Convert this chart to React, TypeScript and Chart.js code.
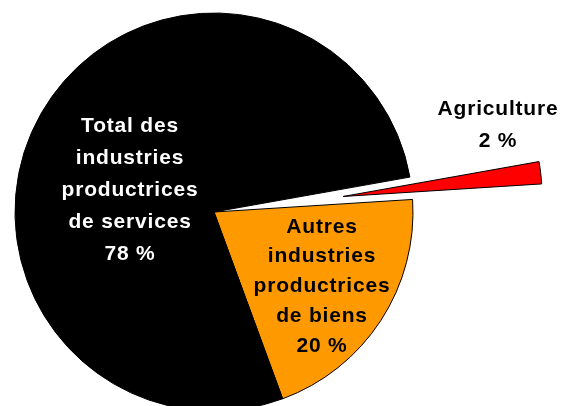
import React, { useEffect, useRef } from "react";
import { Chart, registerables } from "chart.js";

Chart.register(...registerables);

// Sector names (multi-line labels as printed on the chart)
const categories: string[][] = [
  ["Agriculture"],
  ["Autres", "industries", "productrices", "de biens"],
  ["Total des", "industries", "productrices", "de services"],
];
// Shares in percent (printed labels are rounded)
const shares: number[] = [1.8, 20.4, 77.8];
const sliceColors: string[] = ["#FF0000", "#FF9900", "#000000"];
const labelColors: string[] = ["#000000", "#000000", "#FFFFFF"];

export default function App() {
  const canvasRef = useRef<HTMLCanvasElement | null>(null);

  useEffect(() => {
    const canvas = canvasRef.current;
    if (!canvas) return;

    // how far each slice is pulled out from the centre (px)
    const explode: number[] = [130, 0, 0];
    // label layout relative to the pie centre: [dx, dy of middle line baseline, line height]
    const labelLayout: number[][] = [
      [284, -81, 32],
      [108, 80, 29.75],
      [-84, -16, 32],
    ];

    const explodePlugin = {
      id: "explodedSlices",
      beforeDatasetDraw(chart: any, args: any) {
        const ctx = chart.ctx;
        const meta = args.meta;
        meta.data.forEach((arc: any, i: number) => {
          const mid = (arc.startAngle + arc.endAngle) / 2;
          const d = explode[i] || 0;
          ctx.save();
          ctx.translate(Math.cos(mid) * d, Math.sin(mid) * d);
          arc.draw(ctx);
          ctx.restore();
        });
        return false;
      },
    };

    const labelPlugin = {
      id: "sliceLabels",
      afterDatasetsDraw(chart: any) {
        const ctx = chart.ctx;
        const meta = chart.getDatasetMeta(0);
        ctx.save();
        ctx.font = "bold 21px 'Liberation Sans', Arial, sans-serif";
        ctx.textAlign = "center";
        ctx.textBaseline = "alphabetic";
        try {
          (ctx as any).letterSpacing = "0.8px";
        } catch (e) {}
        meta.data.forEach((arc: any, i: number) => {
          const lines = [...categories[i], `${Math.round(shares[i])} %`];
          const [dx, dy, lh] = labelLayout[i];
          const cx = arc.x + dx;
          const mid = (lines.length - 1) / 2;
          ctx.fillStyle = labelColors[i];
          lines.forEach((ln, j) => {
            ctx.fillText(ln, cx, arc.y + dy + (j - mid) * lh);
          });
        });
        ctx.restore();
      },
    };

    const chart = new Chart(canvas, {
      type: "pie",
      data: {
        labels: categories.map((c) => c.join(" ")),
        datasets: [
          {
            data: shares,
            backgroundColor: sliceColors,
            borderColor: "#000000",
            borderWidth: 1,
            offset: 0,
            hoverOffset: 0,
          } as any,
        ],
      },
      options: {
        animation: false,
        responsive: false,
        devicePixelRatio: 1,
        rotation: 79.9,
        radius: 199,
        layout: { padding: { left: 0, right: 133, top: 18, bottom: 0 } },
        plugins: {
          legend: { display: false },
          tooltip: { enabled: false },
        },
        events: [],
      } as any,
      plugins: [explodePlugin, labelPlugin],
    });

    return () => chart.destroy();
  }, []);

  return (
    <div style={{ position: "absolute", left: 0, top: 0, width: 561, height: 406, background: "#fff" }}>
      <canvas ref={canvasRef} width={561} height={406} style={{ display: "block" }} />
    </div>
  );
}
